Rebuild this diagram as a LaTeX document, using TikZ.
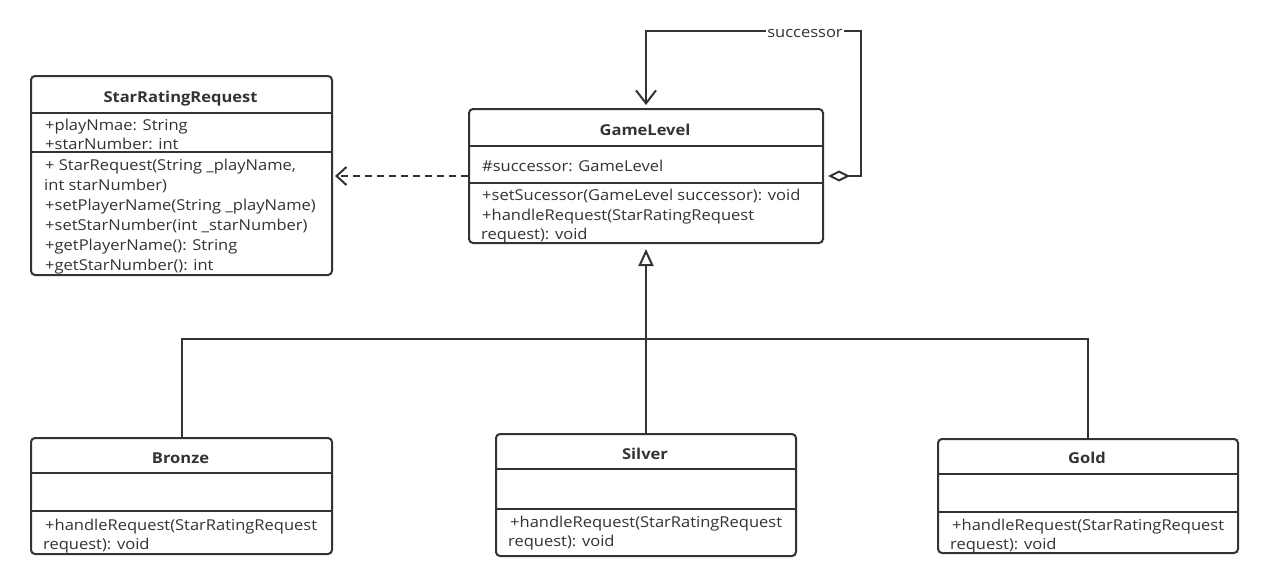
\documentclass[tikz,border=0pt]{standalone}
\usepackage{fontspec}
\setmainfont{Open Sans}[FakeStretch=1.1]
\usetikzlibrary{arrows.meta}
\definecolor{ink}{HTML}{333333}
\begin{document}
\begin{tikzpicture}[x=1pt,y=-1pt,
  every node/.style={text=ink, font=\fontsize{15}{17}\selectfont},
  classbox/.style={draw=ink, line width=2pt, rounded corners=4pt, inner sep=0pt, anchor=north west},
  divider/.style={draw=ink, line width=2pt},
  cname/.style={anchor=base, inner sep=0pt, font=\fontsize{15}{17}\selectfont\bfseries},
  member/.style={anchor=base west, inner sep=0pt},
  conn/.style={draw=ink, line width=2pt},
  depend/.style={conn, dash pattern=on 7pt off 5pt, -{Straight Barb[length=10pt,width=18pt]}},
  selfref/.style={conn, {Diamond[open,length=22pt,width=11pt]}-{Straight Barb[length=13pt,width=20pt]}},
  inherit/.style={conn, -{Triangle[open,length=17pt,width=15pt]}},
]
\fill[white] (0,0) rectangle (1268,587);
\useasboundingbox (0,0) rectangle (1268,587);

% ---------- StarRatingRequest ----------
\node[classbox, minimum width=301pt, minimum height=199pt] (srr) at (30,75) {};
\draw[divider] (srr.west |- 0,113) -- (srr.east |- 0,113);
\draw[divider] (srr.west |- 0,152) -- (srr.east |- 0,152);
\node[cname] (srr-name) at (180.5,102) {StarRatingRequest};
\node[member] (srr-a1) at (45,130) {+playNmae: String};
\node[member] (srr-a2) at (45,149) {+starNumber: int};
\node[member] (srr-m1) at (45,170) {+ StarRequest(String \_playName,};
\node[member] (srr-m1b) at (44,190) {int starNumber)};
\node[member] (srr-m2) at (45,210) {+setPlayerName(String \_playName)};
\node[member] (srr-m3) at (45,230) {+setStarNumber(int \_starNumber)};
\node[member] (srr-m4) at (45,250) {+getPlayerName(): String};
\node[member] (srr-m5) at (45,270) {+getStarNumber(): int};

% ---------- GameLevel ----------
\node[classbox, minimum width=354pt, minimum height=134pt] (gl) at (468,108) {};
\draw[divider] (gl.west |- 0,146) -- (gl.east |- 0,146);
\draw[divider] (gl.west |- 0,183) -- (gl.east |- 0,183);
\node[cname] (gl-name) at (645,135) {GameLevel};
\node[member] (gl-a1) at (482,171) {\#successor: GameLevel};
\node[member] (gl-m1) at (482,200) {+setSucessor(GameLevel successor): void};
\node[member] (gl-m2) at (482,220) {+handleRequest(StarRatingRequest};
\node[member] (gl-m2b) at (481,239) {request): void};

% ---------- Bronze ----------
\node[classbox, minimum width=301pt, minimum height=116pt] (bronze) at (30,437) {};
\draw[divider] (bronze.west |- 0,473) -- (bronze.east |- 0,473);
\draw[divider] (bronze.west |- 0,511) -- (bronze.east |- 0,511);
\node[cname] (bronze-name) at (180.5,463) {Bronze};
\node[member] (bronze-m1) at (45,530) {+handleRequest(StarRatingRequest};
\node[member] (bronze-m1b) at (43,549) {request): void};

% ---------- Silver ----------
\node[classbox, minimum width=300pt, minimum height=122pt] (silver) at (495,433) {};
\draw[divider] (silver.west |- 0,469) -- (silver.east |- 0,469);
\draw[divider] (silver.west |- 0,509) -- (silver.east |- 0,509);
\node[cname] (silver-name) at (645,459) {Silver};
\node[member] (silver-m1) at (510,527) {+handleRequest(StarRatingRequest};
\node[member] (silver-m1b) at (508,546) {request): void};

% ---------- Gold ----------
\node[classbox, minimum width=300pt, minimum height=114pt] (gold) at (937,438) {};
\draw[divider] (gold.west |- 0,474) -- (gold.east |- 0,474);
\draw[divider] (gold.west |- 0,512) -- (gold.east |- 0,512);
\node[cname] (gold-name) at (1087,463) {Gold};
\node[member] (gold-m1) at (952,530) {+handleRequest(StarRatingRequest};
\node[member] (gold-m1b) at (950,549) {request): void};

% ---------- relations ----------
% dependency on the request class
\draw[depend, shorten >=2pt] (gl.west) -- (gl.west -| srr.east);

% successor self-association
\draw[selfref, shorten <=4pt, shorten >=3pt] (gl.east) -| (861,31) -| (gl.north);
\node[fill=white, inner xsep=1pt, inner ysep=2pt] (succ-label) at (805,33.5) {successor};

% generalisation of the three levels
\coordinate (bus) at (645,339);
\draw[conn] (bronze.north) |- (bus);
\draw[conn] (gold.north) |- (bus);
\draw[inherit, shorten >=5pt] (silver.north) -- (gl.south);
\end{tikzpicture}
\end{document}
